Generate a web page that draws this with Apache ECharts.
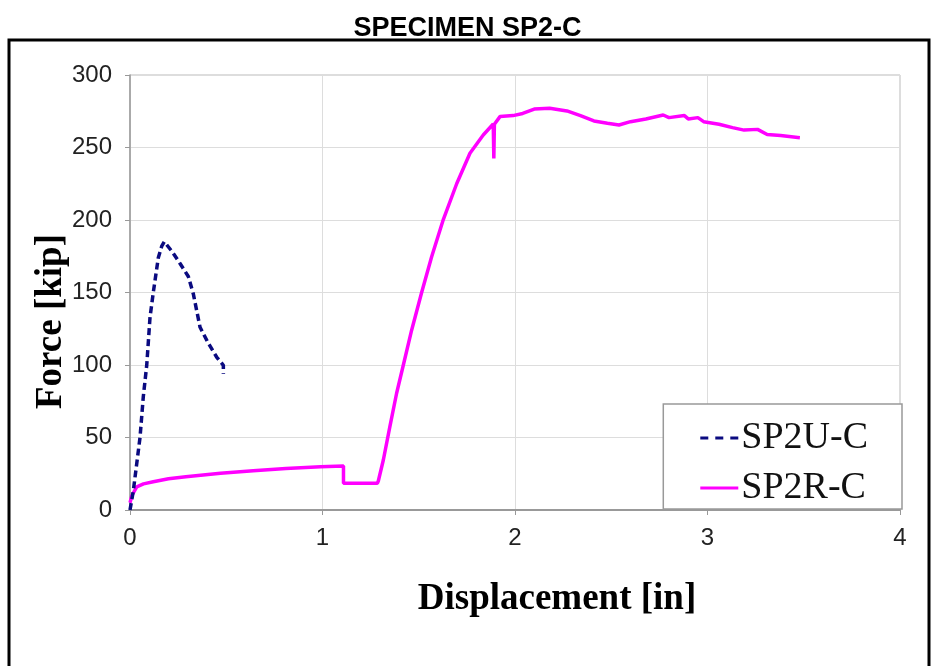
<!DOCTYPE html>
<html>
<head>
<meta charset="utf-8">
<script src="https://cdn.jsdelivr.net/npm/echarts@6/dist/echarts.min.js"></script>
<style>html,body{margin:0;padding:0;background:#fff;}#c{width:935px;height:666px;}</style>
</head>
<body>
<div id="c"></div>
<script>
var chartTitle = 'SPECIMEN SP2-C';
var xTitle = 'Displacement [in]';
var yTitle = 'Force [kip]';
var seriesNames = ['SP2U-C', 'SP2R-C'];
var xTicks = [0, 1, 2, 3, 4];
var yTicks = [0, 50, 100, 150, 200, 250, 300];

// SP2U-C : [displacement, force]
var sp2uDisp  = [0, 0.017, 0.035, 0.052, 0.069, 0.087, 0.104, 0.121, 0.147, 0.165, 0.178, 0.22, 0.26, 0.303, 0.329, 0.364, 0.407, 0.45, 0.485, 0.485];
var sp2uForce = [0, 13, 32, 50, 78, 100, 133, 150, 174, 182, 185, 178, 170, 161, 149, 126, 115, 105.5, 99.8, 94];

// SP2R-C
var sp2rDisp  = [0, 0.01, 0.035, 0.07, 0.121, 0.2, 0.29, 0.47, 0.64, 0.81, 0.99, 1.109, 1.109, 1.285, 1.29, 1.316, 1.35, 1.385, 1.42, 1.463, 1.515, 1.567, 1.628, 1.697, 1.766, 1.835, 1.887, 1.89, 1.893, 1.922, 1.99, 2.04, 2.10, 2.18, 2.27, 2.34, 2.41, 2.48, 2.54, 2.60, 2.68, 2.77, 2.80, 2.88, 2.90, 2.95, 2.98, 3.06, 3.13, 3.19, 3.26, 3.31, 3.38, 3.48];
var sp2rForce = [5, 10, 16, 18, 19.5, 21.5, 23, 25.3, 27.1, 28.7, 29.9, 30.3, 18.5, 18.5, 20, 34.5, 57.5, 80.5, 100, 124, 150, 174.7, 200.5, 225, 246, 258.6, 266.2, 242.5, 266, 271.3, 272, 273.5, 276.5, 277, 275.2, 272, 268.3, 266.7, 265.5, 267.8, 269.7, 272.4, 270.6, 272, 269.7, 270.6, 267.8, 266, 263.7, 262, 262.5, 259, 258.2, 256.8];

function pairs(xs, ys) { return xs.map(function (x, i) { return [x, ys[i]]; }); }

var chart = echarts.init(document.getElementById('c'), null, {renderer: 'canvas'});
chart.setOption({
  backgroundColor: '#ffffff',
  animation: false,
  title: {
    text: chartTitle, left: 'center', top: 10,
    textStyle: {fontFamily: 'Liberation Sans', fontWeight: 'bold', fontSize: 27, color: '#000'}
  },
  graphic: [{
    type: 'rect', shape: {x: 9, y: 40, width: 920, height: 640},
    style: {fill: 'none', stroke: '#000', lineWidth: 3}, z: -1
  }],
  grid: {left: 130, right: 35, top: 75, bottom: 156, show: true, borderColor: '#bbb', borderWidth: 1},
  legend: {
    right: 33, bottom: 157, orient: 'vertical', align: 'left',
    backgroundColor: '#fff', borderColor: '#999', borderWidth: 1.5,
    padding: [15, 34, 2, 37], itemGap: 12, itemWidth: 38, itemHeight: 14,
    textStyle: {fontFamily: 'Liberation Serif', fontSize: 38, lineHeight: 38, color: '#111', padding: [0, 0, 0, -2]},
    data: [
      {name: seriesNames[0], icon: 'path://M0,0h8v3h-8z M15,0h8v3h-8z M30,0h8v3h-8z', itemStyle: {color: '#0a0a80'}},
      {name: seriesNames[1], icon: 'path://M0,0h38v3h-38z', itemStyle: {color: '#ff00ff'}}
    ]
  },
  xAxis: {
    type: 'value', min: 0, max: 4, interval: 1,
    name: xTitle, nameLocation: 'middle', nameGap: 71, nameMoveOverlap: false,
    nameTextStyle: {fontFamily: 'Liberation Serif', fontWeight: 'bold', fontSize: 37, color: '#000', padding: [0, 0, 0, 84]},
    axisLine: {show: true, lineStyle: {color: '#999', width: 2}},
    axisTick: {show: true, length: 5, lineStyle: {color: '#999'}},
    axisLabel: {fontFamily: 'Liberation Sans', fontSize: 24, color: '#222', margin: 16},
    splitLine: {show: true, lineStyle: {color: '#ddd', width: 1}}
  },
  yAxis: {
    type: 'value', min: 0, max: 300, interval: 50,
    name: yTitle, nameLocation: 'middle', nameGap: 60, nameRotate: 90, nameMoveOverlap: false,
    nameTextStyle: {fontFamily: 'Liberation Serif', fontWeight: 'bold', fontSize: 37, color: '#000', padding: [0, 58, 0, 0]},
    axisLine: {show: true, lineStyle: {color: '#999', width: 1.5}},
    axisTick: {show: true, length: 5, lineStyle: {color: '#999'}},
    axisLabel: {fontFamily: 'Liberation Sans', fontSize: 24, color: '#222', margin: 18},
    splitLine: {show: true, lineStyle: {color: '#ddd', width: 1}}
  },
  series: [
    {
      name: seriesNames[0], type: 'line', data: pairs(sp2uDisp, sp2uForce),
      showSymbol: false, symbol: 'none', smooth: false,
      lineStyle: {color: '#0a0a80', width: 3.5, type: [7, 4]},
      itemStyle: {color: '#0a0a80'}, z: 3
    },
    {
      name: seriesNames[1], type: 'line', data: pairs(sp2rDisp, sp2rForce),
      showSymbol: false, symbol: 'none', smooth: false,
      lineStyle: {color: '#ff00ff', width: 3.5},
      itemStyle: {color: '#ff00ff'}, z: 2
    }
  ]
});
</script>
</body>
</html>
